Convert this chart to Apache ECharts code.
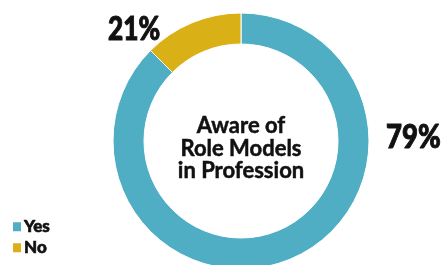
<!DOCTYPE html>
<html>
<head>
<meta charset="utf-8">
<style>
html,body{margin:0;padding:0;background:#fff;}
#chart{width:443px;height:265px;}
</style>
<script src="https://cdn.jsdelivr.net/npm/echarts@6/dist/echarts.min.js"></script>
</head>
<body>
<div id="chart"></div>
<script>
// Categories and values
var categories = ['Yes', 'No'];
var percentLabels = ['79%', '21%'];      // printed labels
var arcShares = [87.5, 12.5];            // slice sizes as drawn in the picture
var colors = ['#4FADC4', '#D9B016'];
var centerTitle = 'Aware of\nRole Models\nin Profession';

var chart = echarts.init(document.getElementById('chart'), null, {renderer: 'canvas'});
var fontFam = 'Lato, "Open Sans", sans-serif';

function legendFor(name, top) {
  return {
    left: 11,
    top: top,
    padding: 0,
    icon: 'rect',
    itemWidth: 10,
    itemHeight: 11,
    itemGap: 0,
    selectedMode: false,
    data: [name],
    textStyle: {fontFamily: fontFam, fontWeight: 900, fontSize: 17, color: '#111', padding: [2, 0, 0, -3],
                textBorderColor: '#111', textBorderWidth: 0.6}
  };
}

var option = {
  animation: false,
  backgroundColor: '#ffffff',
  color: colors,
  legend: [legendFor(categories[0], 218), legendFor(categories[1], 239)],
  series: [{
    type: 'pie',
    center: [241, 141],
    radius: [97, 128],
    startAngle: 90,
    clockwise: true,
    silent: true,
    label: {show: false},
    labelLine: {show: false},
    itemStyle: {borderColor: '#fff', borderWidth: 1},
    data: categories.map(function (c, i) {
      return {name: c, value: arcShares[i]};
    })
  }],
  graphic: [
    {
      type: 'text', x: 241, y: 115,
      style: {text: centerTitle, fontFamily: fontFam, fontWeight: 700, fontSize: 22, lineHeight: 22.5, fill: '#111',
              textAlign: 'center', textVerticalAlign: 'top', stroke: '#111', lineWidth: 0.5}
    },
    {
      type: 'text', x: 386, y: 122, scaleX: 0.86,
      style: {text: percentLabels[0], fontFamily: fontFam, fontWeight: 900, fontSize: 32, fill: '#111',
              textVerticalAlign: 'top', stroke: '#111', lineWidth: 1}
    },
    {
      type: 'text', x: 108, y: 14, scaleX: 0.82,
      style: {text: percentLabels[1], fontFamily: fontFam, fontWeight: 900, fontSize: 32, fill: '#111',
              textVerticalAlign: 'top', stroke: '#111', lineWidth: 1}
    }
  ]
};
chart.setOption(option);
</script>
</body>
</html>
